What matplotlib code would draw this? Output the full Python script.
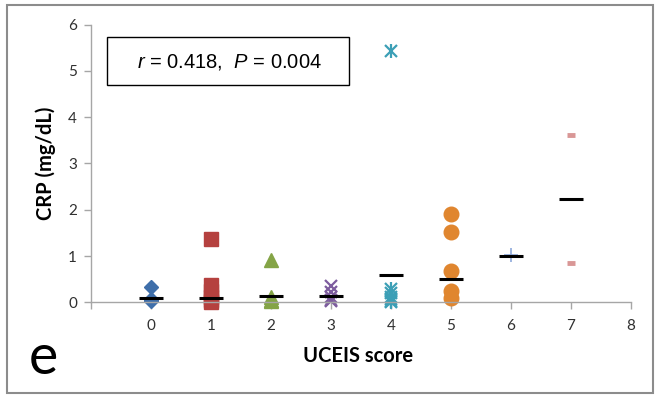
import matplotlib
matplotlib.use('Agg')
import matplotlib.pyplot as plt
from matplotlib.patches import Rectangle

plt.rcParams['mathtext.fontset'] = 'custom'
plt.rcParams['mathtext.rm'] = 'Liberation Sans'
plt.rcParams['mathtext.it'] = 'Liberation Sans:italic'

# CRP by UCEIS score, one group per score
d0 = [0.32, 0.08, 0.04, 0.02]
d1 = [1.37, 0.37, 0.25, 0.12, 0.05, 0.0]
d2 = [0.91, 0.12, 0.05, 0.02]
d3 = [0.35, 0.22, 0.12, 0.06, 0.02]
d4 = [5.43, 0.28, 0.2, 0.12, 0.07, 0.03, 0.0]
d5 = [1.9, 1.51, 0.68, 0.24, 0.09]
d6 = [1.03]
d7 = [3.62, 0.85]
groups = [d0, d1, d2, d3, d4, d5, d6, d7]

# horizontal bar value for each score
centers = [0.09, 0.10, 0.14, 0.14, 0.58, 0.50, 1.01, 2.24]

x_ticks = [0, 1, 2, 3, 4, 5, 6, 7, 8]
y_ticks = [0, 1, 2, 3, 4, 5, 6]

styles = [
    dict(marker='D', ms=7.5, color='#3F6FAA'),
    dict(marker='s', ms=10, color='#B5413F'),
    dict(marker='^', ms=10, color='#84A446'),
    dict(marker='x', ms=8, color='#7D5C9E', mew=1.6),
    dict(marker='x', ms=8, color='#3C9FB6', mew=1.6),
    dict(marker='o', ms=10.5, color='#E0862F'),
    dict(marker='+', ms=10, color='#8EA9DB', mew=1.2),
    dict(marker='_', ms=6, color='#D99796', mew=3.5),
]

W, H = 656, 397
fig = plt.figure(figsize=(W / 100, H / 100), dpi=100)
ax = fig.add_axes([91 / W, (H - 302.3) / H, 540 / W, 277.8 / H])

gray = '#A6A6A6'
for i, vals in enumerate(groups):
    ax.plot([i] * len(vals), vals, linestyle='none', clip_on=False, **styles[i])
    if i == 4:
        # asterisk: cross plus a vertical stroke
        ax.plot([i] * len(vals), vals, linestyle='none', marker='|',
                ms=10, color='#3C9FB6', mew=1.6, clip_on=False)
    ax.hlines(centers[i], i - 0.2, i + 0.2, color='black', lw=2.2, zorder=5)

ax.set_xlim(-1, 8)
ax.set_ylim(0, 6)
ax.set_yticks(y_ticks)
ax.set_xticks([-1] + x_ticks)
ax.set_xticklabels([''] + [str(t) for t in x_ticks])
for s in ['top', 'right']:
    ax.spines[s].set_visible(False)
for s in ['left', 'bottom']:
    ax.spines[s].set_color(gray)
    ax.spines[s].set_linewidth(1.0)
ax.tick_params(direction='out', length=5, width=1, color=gray,
               labelsize=11, labelcolor='#303030', pad=5)
ax.tick_params(axis='x', pad=7)
for lab in ax.get_xticklabels() + ax.get_yticklabels():
    lab.set_fontfamily('Lato')

fig.text(46 / W, 1 - 163.5 / H, 'CRP (mg/dL)', rotation=90, ha='center',
         va='center', fontsize=14.5, fontweight='bold', family='Lato')
fig.text(358 / W, 1 - 356 / H, 'UCEIS score', ha='center', va='center',
         fontsize=14.5, fontweight='bold', family='Lato')
fig.text(43 / W, 1 - 359 / H, 'e', ha='center', va='center',
         fontsize=40, family='Lato')

# stats box
fig.add_artist(Rectangle((107 / W, 1 - 85 / H), 242 / W, 48 / H,
                         transform=fig.transFigure, fill=False,
                         edgecolor='black', lw=1.0))
fig.text(229 / W, 1 - 61.5 / H, r'$\it{r}$ = 0.418,  $\it{P}$ = 0.004',
         ha='center', va='center', fontsize=14.5, family='Liberation Sans')

# outer frame
fig.add_artist(Rectangle((7 / W, 1 - 393 / H), 646 / W, 388 / H,
                         transform=fig.transFigure, fill=False,
                         edgecolor='#8C8C8C', lw=1.5))

fig.savefig('out.png', dpi=100)
